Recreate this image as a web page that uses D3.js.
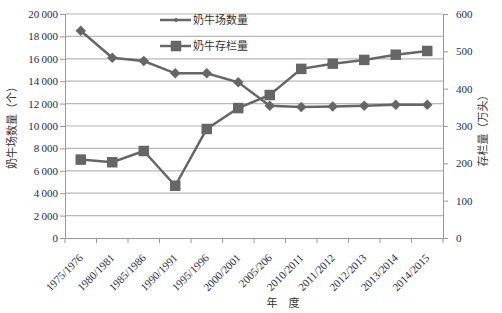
<!DOCTYPE html>
<html>
<head>
<meta charset="utf-8">
<script src="https://d3js.org/d3.v7.min.js"></script>
<style>
  body { margin: 0; background: #fff; }
  .tick text { font-family: "Liberation Serif", "DejaVu Serif", serif; font-size: 11px; fill: #1f2a4a; }
  .cn { font-family: "Noto Sans CJK SC", sans-serif; font-size: 11px; fill: #333; }
</style>
</head>
<body>
<div id="chart"></div>
<script>
// data
var years = ["1975/1976", "1980/1981", "1985/1986", "1990/1991", "1995/1996", "2000/2001",
             "2005/206", "2010/2011", "2011/2012", "2012/2013", "2013/2014", "2014/2015"];
var farms = [18500, 16100, 15800, 14700, 14700, 13900, 11800, 11700, 11750, 11800, 11900, 11900];
var herd = [210, 203, 233, 140, 292, 348, 383, 453, 467, 477, 491, 501];
var leftTicks = [0, 2000, 4000, 6000, 8000, 10000, 12000, 14000, 16000, 18000, 20000];
var rightTicks = [0, 100, 200, 300, 400, 500, 600];

var W = 502, H = 313;
var margin = {top: 14, right: 59, bottom: 75, left: 65};
var width = W - margin.left - margin.right,
    height = H - margin.top - margin.bottom;
var col = "#666666";

var svg = d3.select("#chart").append("svg")
    .attr("width", W).attr("height", H)
  .append("g")
    .attr("transform", "translate(" + margin.left + "," + margin.top + ")");

var x = d3.scaleBand().domain(years).range([0, width]);
var yL = d3.scaleLinear().domain([0, 20000]).range([height, 0]);
var yR = d3.scaleLinear().domain([0, 600]).range([height, 0]);

// gridlines
svg.selectAll(".grid").data(leftTicks.slice(1)).enter().append("line")
    .attr("x1", 0).attr("x2", width)
    .attr("y1", function(d) { return yL(d); }).attr("y2", function(d) { return yL(d); })
    .attr("stroke", "#b8b8b8").attr("stroke-width", 1.2);

var fmt = function(d) { return d3.format(",")(d).replace(",", "\u2009"); };

// left axis
var gl = svg.append("g").call(d3.axisLeft(yL).tickValues(leftTicks).tickFormat(fmt).tickSize(5).tickPadding(2));
gl.selectAll("line, path").attr("stroke", "#999");

// right axis
var gr = svg.append("g").attr("transform", "translate(" + width + ",0)")
    .call(d3.axisRight(yR).tickValues(rightTicks).tickSize(5).tickPadding(8));
gr.selectAll("line, path").attr("stroke", "#999");

// bottom axis, ticks at band edges
var gb = svg.append("g").attr("transform", "translate(0," + height + ")")
    .call(d3.axisBottom(x).tickSize(0).tickPadding(0));
gb.select("path").attr("stroke", "#999");
gb.selectAll(".tick text")
    .attr("text-anchor", "end")
    .attr("transform", "translate(1,17) rotate(-45)")
    .attr("dy", "0.35em").attr("dx", "-0.1em");
svg.selectAll(".xt").data(years.concat(["end"])).enter().append("line")
    .attr("x1", function(d, i) { return i * x.bandwidth(); })
    .attr("x2", function(d, i) { return i * x.bandwidth(); })
    .attr("y1", height).attr("y2", height + 5)
    .attr("stroke", "#999");

// lines
var lineL = d3.line().x(function(d, i) { return x(years[i]) + x.bandwidth() / 2; })
    .y(function(d) { return yL(d); });
var lineR = d3.line().x(function(d, i) { return x(years[i]) + x.bandwidth() / 2; })
    .y(function(d) { return yR(d); });

svg.append("path").datum(herd).attr("d", lineR)
    .attr("fill", "none").attr("stroke", col).attr("stroke-width", 2.5);
svg.append("path").datum(farms).attr("d", lineL)
    .attr("fill", "none").attr("stroke", col).attr("stroke-width", 2.5);

var diamond = d3.symbol().type(d3.symbolDiamond2).size(70);
var square = d3.symbol().type(d3.symbolSquare).size(110);

svg.selectAll(".dm").data(farms).enter().append("path")
    .attr("d", diamond)
    .attr("transform", function(d, i) { return "translate(" + (x(years[i]) + x.bandwidth() / 2) + "," + yL(d) + ")"; })
    .attr("fill", col);
svg.selectAll(".sq").data(herd).enter().append("path")
    .attr("d", square)
    .attr("transform", function(d, i) { return "translate(" + (x(years[i]) + x.bandwidth() / 2) + "," + yR(d) + ")"; })
    .attr("fill", col);

// legend
var leg = svg.append("g").attr("transform", "translate(" + (160 - margin.left) + "," + (20 - margin.top) + ")");
[["奶牛场数量", diamond, 0.5], ["奶牛存栏量", square, 1]].forEach(function(s, i) {
  var g = leg.append("g").attr("transform", "translate(0," + (i * 26) + ")");
  g.append("line").attr("x1", 0).attr("x2", 31).attr("stroke", col).attr("stroke-width", 2.5);
  g.append("path").attr("d", s[1]).attr("transform", "translate(16,0) scale(" + s[2] + ")").attr("fill", col);
  g.append("text").attr("class", "cn").attr("x", 33).attr("dy", "0.35em").text(s[0]);
});

// axis titles
svg.append("text").attr("class", "cn").attr("text-anchor", "middle")
    .attr("transform", "translate(" + (12 - margin.left) + "," + (125 - margin.top) + ") rotate(-90)")
    .attr("dy", "0.35em").text("奶牛场数量（个）");
svg.append("text").attr("class", "cn").attr("text-anchor", "middle")
    .attr("transform", "translate(" + (483 - margin.left) + "," + (128 - margin.top) + ") rotate(-90)")
    .attr("dy", "0.35em").text("存栏量（万头）");
svg.append("text").attr("class", "cn").attr("text-anchor", "middle")
    .attr("x", 283 - margin.left).attr("y", 303 - margin.top)
    .attr("dy", "0.35em").text("年\u2003度");
</script>
</body>
</html>
